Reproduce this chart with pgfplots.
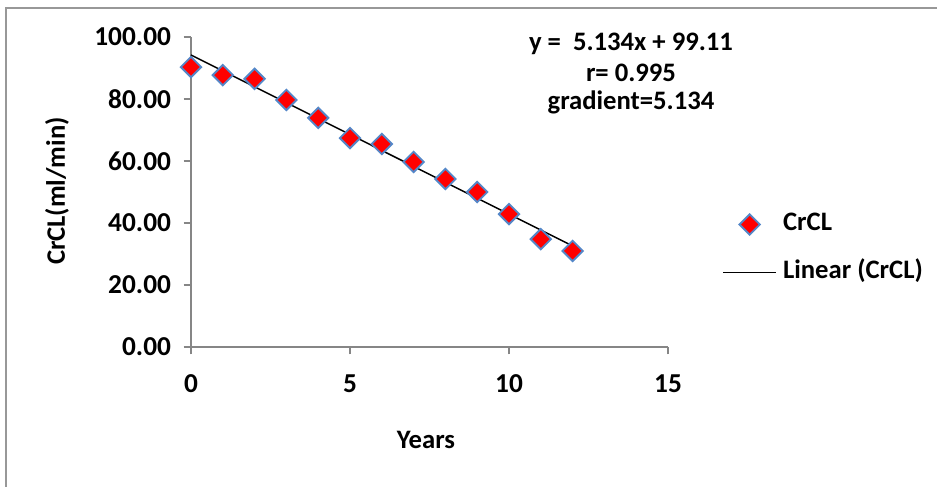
\documentclass[border=0pt]{standalone}
\usepackage{fontspec}
\setmainfont{Carlito}
\usepackage{pgfplots}
\pgfplotsset{compat=1.18}
\definecolor{mkblue}{RGB}{84,135,200}
\definecolor{axgray}{RGB}{134,134,134}
\newcommand{\cfont}{\fontsize{20}{23}\selectfont\bfseries}
\newcommand{\tfont}{\fontsize{20.5}{23}\selectfont\bfseries}
\begin{document}
\begin{tikzpicture}
\path[use as bounding box] (0,0) rectangle (702.75pt,364.5pt);
\draw[axgray!85, line width=1.6pt] (4.5pt,-2pt) -- (4.5pt,358.5pt) -- (706pt,358.5pt);
\begin{axis}[
 at={(143.25pt,104.25pt)}, anchor=south west,
 scale only axis, width=357.75pt, height=232.5pt,
 xmin=0, xmax=15, ymin=0, ymax=100,
 clip=false,
 axis lines=left, axis line style={axgray, line width=1.1pt, -},
 xtick={0,5,10,15}, ytick={0,20,40,60,80,100},
 tick align=outside, major tick length=5.5pt,
 tick style={axgray, line width=1.1pt},
 tick label style={font=\tfont},
 label style={font=\cfont},
 /pgf/number format/assume math mode=true,
 yticklabel style={/pgf/number format/.cd, fixed, fixed zerofill, precision=2, /tikz/.cd, xshift=-6pt},
 xticklabel style={yshift=-12pt},
 xlabel={Years}, ylabel={CrCL(ml/min)},
 xlabel style={at={(axis description cs:0.4927,-0.30)}, anchor=center},
 ylabel style={at={(axis description cs:-0.2810,0.503)}, anchor=center},
 legend image code/.code={\draw[mark repeat=2,mark phase=2,#1] plot coordinates {(0pt,0pt) (20pt,0pt) (40pt,0pt)};},
 legend style={draw=none, fill=none, at={(1.1132,0.3177)}, anchor=west, inner sep=0pt,
   row sep=19pt, column sep=4.5pt, font=\cfont,
   nodes={inner sep=0pt, text height=13pt, text depth=4pt}},
 legend cell align=left,
]
\addplot[only marks, mark=square*, mark size=5.4pt,
  mark options={rotate=45, fill=red, draw=mkblue, line width=1.4pt}]
  coordinates {(0,90.3) (1,87.7) (2,86.5) (3,79.7) (4,73.9) (5,67.4) (6,65.5)
               (7,59.7) (8,54.2) (9,50.0) (10,42.9) (11,34.8) (12,31.0)};
\addlegendentry{CrCL}
\addplot[black, line width=1.1pt, no marks] coordinates {(0,94.2) (12,32.6)};
\addlegendentry{Linear (CrCL)}
\node[anchor=base, font=\cfont] at (axis description cs:0.9224,0.958) {y =\ \ 5.134x + 99.11};
\node[anchor=base, font=\cfont] at (axis description cs:0.9224,0.858) {r= 0.995};
\node[anchor=base, font=\cfont] at (axis description cs:0.9224,0.765) {gradient=5.134};
\end{axis}
\end{tikzpicture}
\end{document}
